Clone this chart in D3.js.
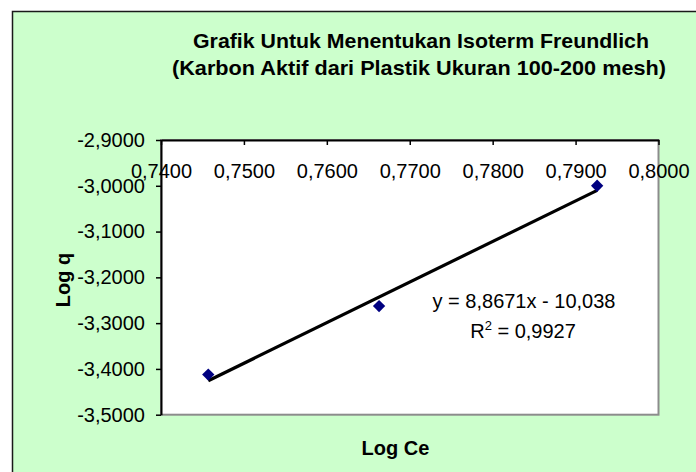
<!DOCTYPE html>
<html>
<head>
<meta charset="utf-8">
<script src="https://cdn.jsdelivr.net/npm/d3@7"></script>
<style>
  html, body { margin: 0; padding: 0; background: #ffffff; }
  svg { display: block; }
  text { font-family: "Liberation Sans", Arial, sans-serif; fill: #000; }
</style>
</head>
<body>
<svg id="chart" width="696" height="472"></svg>
<script>
// data
var logCe = [0.7457, 0.7663, 0.7926];
var logQ = [-3.4124, -3.2627, -3.0000];
var xTicks = [0.74, 0.75, 0.76, 0.77, 0.78, 0.79, 0.80];
var yTicks = [-2.9, -3.0, -3.1, -3.2, -3.3, -3.4, -3.5];
var trendCoef = [8.8671, -10.038]; // slope, intercept
var titleLines = ["Grafik Untuk Menentukan Isoterm Freundlich", "(Karbon Aktif dari Plastik Ukuran 100-200 mesh)"];
var titleWidths = [456, 494];

var svg = d3.select("#chart");

var plotLeft = 161, plotRight = 658.5, plotTop = 140, plotBottom = 414.7;

// comma decimal, plain hyphen minus
var locale = d3.formatLocale({ decimal: ",", thousands: ".", grouping: [3], currency: ["", ""], minus: "-" });
var fmt = locale.format(".4f");

var x = d3.scaleLinear().domain([0.74, 0.80]).range([plotLeft, plotRight]);
var y = d3.scaleLinear().domain([-3.5, -2.9]).range([plotBottom, plotTop]);

// chart area
svg.append("rect")
    .attr("x", 12.5)
    .attr("y", 11.5)
    .attr("width", 700)
    .attr("height", 480)
    .attr("fill", "#ccffcc")
    .attr("stroke", "#1a1a1a")
    .attr("stroke-width", 1.5);

// plot area
svg.append("rect")
    .attr("x", plotLeft)
    .attr("y", plotTop)
    .attr("width", plotRight - plotLeft)
    .attr("height", plotBottom - plotTop)
    .attr("fill", "#ffffff")
    .attr("stroke", "#8c8c8c")
    .attr("stroke-width", 2);

// title
svg.selectAll(".title")
    .data(titleLines)
    .enter().append("text")
    .attr("class", "title")
    .attr("x", function (d, i) { return i == 0 ? 421 : 419; })
    .attr("y", function (d, i) { return 48.3 + i * 27; })
    .attr("text-anchor", "middle")
    .attr("font-size", "21px")
    .attr("font-weight", "bold")
    .attr("textLength", function (d, i) { return titleWidths[i]; })
    .attr("lengthAdjust", "spacingAndGlyphs")
    .text(function (d) { return d; });

// x axis sits on top of the plot, labels below it
var xAxis = svg.append("g")
    .attr("transform", "translate(0," + plotTop + ")")
    .call(d3.axisBottom(x).tickValues(xTicks).tickFormat(fmt).tickSize(5).tickSizeOuter(0).tickPadding(19));

var yAxis = svg.append("g")
    .attr("transform", "translate(" + plotLeft + ",0)")
    .call(d3.axisLeft(y).tickValues(yTicks).tickFormat(fmt).tickSize(5).tickSizeOuter(0).tickPadding(11));

[xAxis, yAxis].forEach(function (g) {
    g.select(".domain").attr("stroke", "#000").attr("stroke-width", 2);
    g.selectAll(".tick line").attr("stroke", "#000").attr("stroke-width", 1.5);
    g.selectAll(".tick text")
        .attr("font-family", "'Liberation Sans', Arial, sans-serif")
        .attr("font-size", "20px")
        .attr("fill", "#000");
});

// trendline over the data range
var xMin = d3.min(logCe), xMax = d3.max(logCe);
svg.append("line")
    .attr("x1", x(xMin))
    .attr("y1", y(trendCoef[0] * xMin + trendCoef[1]))
    .attr("x2", x(xMax))
    .attr("y2", y(trendCoef[0] * xMax + trendCoef[1]))
    .attr("stroke", "#000")
    .attr("stroke-width", 3.2);

// markers
svg.selectAll(".pt")
    .data(logCe)
    .enter().append("path")
    .attr("class", "pt")
    .attr("d", d3.symbol(d3.symbolSquare, 76))
    .attr("fill", "#000080")
    .attr("transform", function (d, i) { return "translate(" + x(d) + "," + y(logQ[i]) + ") rotate(45)"; });

// equation label
svg.append("text")
    .attr("x", 524)
    .attr("y", 308)
    .attr("text-anchor", "middle")
    .attr("font-size", "20px")
    .text("y = " + locale.format(".4f")(trendCoef[0]) + "x - " + locale.format(".3f")(-trendCoef[1]));

var r2 = svg.append("text")
    .attr("x", 523)
    .attr("y", 337.7)
    .attr("text-anchor", "middle")
    .attr("font-size", "20px");
r2.append("tspan").text("R");
r2.append("tspan").attr("dy", -8).attr("font-size", "13px").text("2");
r2.append("tspan").attr("dy", 8).text(" = 0,9927");

// axis titles
svg.append("text")
    .attr("x", 395.5)
    .attr("y", 455)
    .attr("text-anchor", "middle")
    .attr("font-size", "20px")
    .attr("font-weight", "bold")
    .text("Log Ce");

svg.append("text")
    .attr("transform", "translate(70,280) rotate(-90)")
    .attr("text-anchor", "middle")
    .attr("font-size", "20px")
    .attr("font-weight", "bold")
    .text("Log q");
</script>
</body>
</html>
